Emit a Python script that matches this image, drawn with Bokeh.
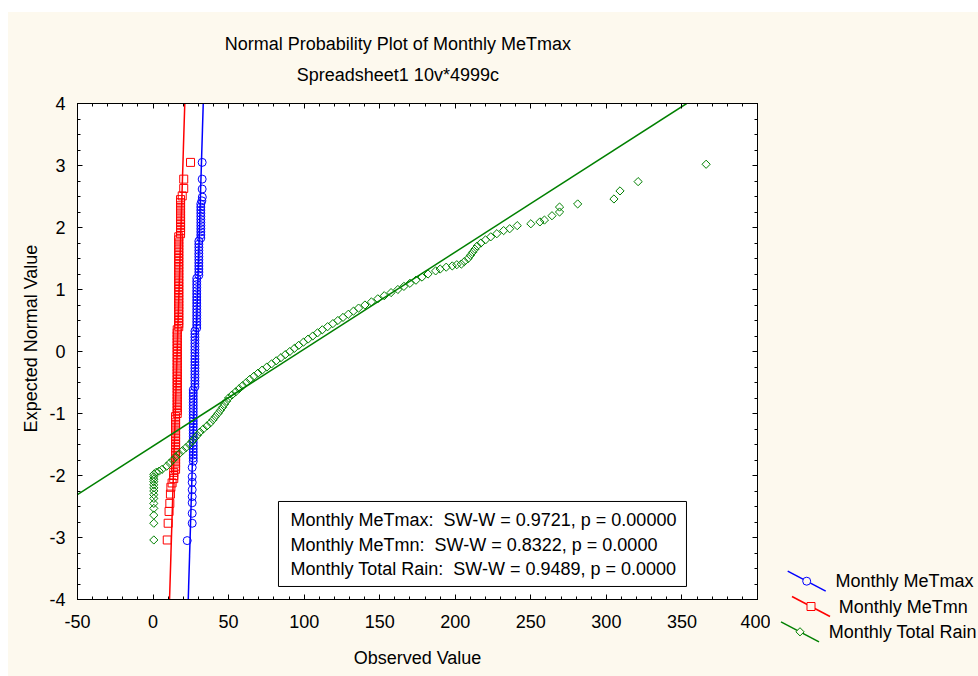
import numpy as np
from bokeh.plotting import figure
from bokeh.models import (Range1d, LinearAxis, SingleIntervalTicker, Label,
                          BoxAnnotation, Spacer)
from bokeh.layouts import row, column
from bokeh.embed import file_html
from bokeh.resources import INLINE

# ---------------- data ----------------
title_text = "Normal Probability Plot of Monthly MeTmax"
subtitle_text = "Spreadsheet1 10v*4999c"
x_label = "Observed Value"
y_label = "Expected Normal Value"
x_ticks = [-50, 0, 50, 100, 150, 200, 250, 300, 350, 400]
y_ticks = [-4, -3, -2, -1, 0, 1, 2, 3, 4]
series_names = ["Monthly MeTmax", "Monthly MeTmn", "Monthly Total Rain"]
sw_w = [0.9721, 0.8322, 0.9489]
p_vals = ["0.00000", "0.0000", "0.0000"]
fit_mean = [28.25, 15.95, 97.5]
fit_sd = [1.24, 1.26, 63.9]

tmax_x = [32.5, 32.5, 32.5, 32.6, 32.3,
          31.6, 31.6, 31.6, 31.6, 31.6, 31.6, 31.6, 31.6, 31.6, 31.6, 31.6, 31.6,
          30.3, 30.3, 30.3, 30.3, 30.3, 30.3, 30.3, 30.3, 30.3, 30.3, 30.3, 30.3,
          28.9, 28.9, 28.9, 28.9, 28.9, 28.9, 28.9, 28.9, 28.9, 28.9, 28.9, 28.9,
          28.9, 28.9, 28.9, 28.9, 28.9,
          27.7, 27.7, 27.7, 27.7, 27.7, 27.7, 27.7, 27.7, 27.7, 27.7, 27.7, 27.7,
          27.7, 27.7, 27.7, 27.7, 27.7, 27.7, 27.7,
          26.6, 26.6, 26.6, 26.6, 26.6, 26.6, 26.6, 26.6, 26.6, 26.6, 26.6, 26.6,
          26.6, 26.6, 26.6, 26.6, 26.6, 26.6, 26.6, 26.6, 26.6, 26.6, 26.6, 26.6,
          25.9, 25.9, 25.9, 25.9, 25.9, 25.9, 25.9, 25.9,
          22.6]
tmax_y = [3.05, 2.78, 2.62, 2.49, 2.43,
          2.38, 2.33, 2.28, 2.23, 2.18, 2.13, 2.08, 2.03, 1.98, 1.93, 1.88, 1.83,
          1.78, 1.73, 1.68, 1.63, 1.58, 1.53, 1.48, 1.43, 1.38, 1.33, 1.28, 1.23,
          1.18, 1.13, 1.08, 1.03, 0.98, 0.93, 0.88, 0.83, 0.78, 0.73, 0.68, 0.63,
          0.58, 0.53, 0.48, 0.43, 0.38,
          0.33, 0.28, 0.23, 0.18, 0.13, 0.08, 0.03, -0.02, -0.07, -0.12, -0.17, -0.22,
          -0.27, -0.32, -0.37, -0.42, -0.47, -0.52, -0.57,
          -0.62, -0.67, -0.72, -0.77, -0.82, -0.87, -0.92, -0.97, -1.02, -1.07, -1.12, -1.17,
          -1.22, -1.27, -1.32, -1.37, -1.42, -1.47, -1.52, -1.57, -1.62, -1.67, -1.72, -1.77,
          -1.87, -2.02, -2.11, -2.23, -2.34, -2.44, -2.61, -2.77,
          -3.05]

tmn_x = [24.8, 20.3, 20.3, 19.3,
         18.2, 18.2, 18.2, 18.2, 18.2, 18.2, 18.2, 18.2, 18.2, 18.2, 18.2, 18.2,
         17.0, 17.0, 17.0, 17.0, 17.0, 17.0, 17.0, 17.0, 17.0, 17.0,
         17.0, 17.0, 17.0, 17.0, 17.0, 17.0, 17.0, 17.0, 17.0, 17.0,
         17.0, 17.0, 17.0, 17.0, 17.0, 17.0, 17.0, 17.0, 17.0, 17.0,
         16.0, 16.0, 16.0, 16.0, 16.0, 16.0, 16.0, 16.0, 16.0, 16.0,
         16.0, 16.0, 16.0, 16.0, 16.0, 16.0, 16.0, 16.0, 16.0, 16.0,
         16.0, 16.0, 16.0, 16.0, 16.0, 16.0, 16.0, 16.0,
         14.9, 14.9, 14.9, 14.9, 14.9, 14.9, 14.9, 14.9, 14.9,
         14.9, 14.9, 14.9, 14.9, 14.9, 14.9, 14.9, 14.9, 14.9,
         13.7, 13.7, 13.7,
         12.6, 11.8, 11.5, 11.1, 10.6, 10.0, 9.4]
tmn_y = [3.05, 2.78, 2.63, 2.51,
         2.45, 2.40, 2.35, 2.30, 2.25, 2.20, 2.15, 2.10, 2.05, 2.00, 1.95, 1.90,
         1.85, 1.80, 1.75, 1.70, 1.65, 1.60, 1.55, 1.50, 1.45, 1.40,
         1.35, 1.30, 1.25, 1.20, 1.15, 1.10, 1.05, 1.00, 0.95, 0.90,
         0.85, 0.80, 0.75, 0.70, 0.65, 0.60, 0.55, 0.50, 0.45, 0.40,
         0.35, 0.30, 0.25, 0.20, 0.15, 0.10, 0.05, 0.00, -0.05, -0.10,
         -0.15, -0.20, -0.25, -0.30, -0.35, -0.40, -0.45, -0.50, -0.55, -0.60,
         -0.65, -0.70, -0.75, -0.80, -0.85, -0.90, -0.95, -1.00,
         -1.05, -1.10, -1.15, -1.20, -1.25, -1.30, -1.35, -1.40, -1.45,
         -1.50, -1.55, -1.60, -1.65, -1.70, -1.75, -1.80, -1.85, -1.90,
         -1.95, -2.00, -2.05,
         -2.12, -2.19, -2.30, -2.45, -2.58, -2.77, -3.04]

rain_x = [0.5, 0.5, 0.5, 0.5, 0.5, 0.5, 0.5, 0.5, 0.5, 0.5, 0.5, 0.5, 0.5, 0.5,
          2.0, 4.0,
          6.0, 9.0, 11.0, 13.0, 15.0, 17.3, 19.5, 21.8, 24.0, 25.8, 27.5, 29.3,
          31.0, 33.3, 35.7, 38.0, 39.7, 41.3, 43.0, 44.5, 46.0, 47.3, 48.7, 50.0,
          52.3, 54.7, 57.0, 59.3, 61.7, 64.0, 66.7, 69.4, 72.2, 75.3, 78.4, 81.5,
          84.6, 87.5, 90.5, 93.5, 96.4, 99.5, 102.6, 105.7, 108.8, 112.0, 115.5, 119.0,
          122.3, 125.7, 129.2, 132.6, 136.0, 140.2, 144.5, 148.7, 153.0, 157.5, 162.0, 166.0,
          170.0, 174.0, 178.0, 182.0, 187.0, 190.0, 194.0, 198.0, 201.0, 204.0, 206.0, 208.5,
          210.0, 211.5, 213.0, 214.5, 217.0, 220.0, 223.5, 227.5, 232.0,
          236.0, 241.0, 250.0, 256.0, 259.0, 264.0, 269.0, 269.0, 281.0, 305.0, 309.0, 321.0, 366.0]
rain_y = [-3.04, -2.77, -2.64, -2.53, -2.45, -2.37, -2.31, -2.25, -2.20, -2.15, -2.10, -2.06, -2.02, -1.98,
          -1.95, -1.93,
          -1.90, -1.85, -1.80, -1.75, -1.70, -1.65, -1.60, -1.55, -1.50, -1.45, -1.40, -1.35,
          -1.30, -1.25, -1.20, -1.15, -1.10, -1.05, -1.00, -0.95, -0.90, -0.85, -0.80, -0.75,
          -0.70, -0.65, -0.60, -0.55, -0.50, -0.45, -0.40, -0.35, -0.30, -0.25, -0.20, -0.15,
          -0.10, -0.05, 0.00, 0.05, 0.10, 0.15, 0.20, 0.25, 0.30, 0.35, 0.40, 0.45,
          0.50, 0.55, 0.60, 0.65, 0.70, 0.75, 0.80, 0.85, 0.90, 0.95, 1.00, 1.05,
          1.10, 1.15, 1.20, 1.25, 1.30, 1.33, 1.36, 1.38, 1.40, 1.41, 1.45, 1.50,
          1.55, 1.60, 1.65, 1.70, 1.75, 1.80, 1.85, 1.90, 1.95,
          1.98, 2.03, 2.06, 2.09, 2.12, 2.19, 2.25, 2.33, 2.38, 2.46, 2.59, 2.74, 3.02]

# ---------------- styling ----------------
FONT = "Liberation Sans"
FS = "18px"
CREAM = "#fdf9ee"
BLUE, RED, GREEN = "#0000ff", "#ff0000", "#008000"
colors = [BLUE, RED, GREEN]
DIAMOND = 5.8

# page geometry (pixels): left white 8, top white 12
LEFT_W = 35          # strip holding the y-axis label
HEAD_H = 80          # strip holding the title lines
MAIN_W = 727
MAIN_H = 664 - HEAD_H
LEG_W = 208


def strip(width, height, x0, y0):
    f = figure(width=width, height=height,
               x_range=Range1d(x0, x0 + width), y_range=Range1d(y0 + height, y0),
               output_backend="svg", toolbar_location=None, title=None,
               x_axis_type=None, y_axis_type=None, min_border=0,
               border_fill_color=None, background_fill_color=None,
               outline_line_color=None)
    f.grid.visible = False
    return f


def put(fig, x, y, text, angle=0.0, align="center"):
    fig.add_layout(Label(x=x, y=y, text=text, text_font=FONT, text_font_size=FS,
                         text_color="black", text_align=align, text_baseline="middle",
                         angle=angle))


# ---- main plot ----
p = figure(width=MAIN_W, height=MAIN_H, x_range=Range1d(x_ticks[0], x_ticks[-1]),
           y_range=Range1d(y_ticks[0], y_ticks[-1]),
           output_backend="svg", toolbar_location=None, title=None,
           min_border_left=34, min_border_right=13, min_border_top=11, min_border_bottom=77,
           background_fill_color="white", border_fill_color=None,
           outline_line_color="black", outline_line_width=1)
p.grid.visible = False

xax = p.below[0]
yax = p.left[0]
xax.ticker = SingleIntervalTicker(interval=50, num_minor_ticks=5)
yax.ticker = SingleIntervalTicker(interval=1, num_minor_ticks=4)
xax.major_label_overrides = {t: str(t) for t in x_ticks}
yax.major_label_overrides = {t: str(t) for t in y_ticks}
top = LinearAxis(ticker=SingleIntervalTicker(interval=50, num_minor_ticks=5),
                 major_label_text_font_size="0px", major_label_text_color=None,
                 major_label_standoff=0)
right = LinearAxis(ticker=SingleIntervalTicker(interval=1, num_minor_ticks=4),
                   major_label_text_font_size="0px", major_label_text_color=None,
                   major_label_standoff=0)
p.add_layout(top, "above")
p.add_layout(right, "right")
for ax in (xax, yax, top, right):
    ax.major_tick_in = 5
    ax.major_tick_out = 0
    ax.minor_tick_in = 3
    ax.minor_tick_out = 0
    ax.axis_line_color = "black"
    ax.major_tick_line_color = "black"
    ax.minor_tick_line_color = "black"
for ax in (xax, yax):
    ax.major_label_text_font = FONT
    ax.major_label_text_font_size = FS
    ax.major_label_text_color = "black"
xax.major_label_standoff = 15
yax.major_label_standoff = 12
xax.axis_label = x_label
xax.axis_label_text_font = FONT
xax.axis_label_text_font_size = FS
xax.axis_label_text_font_style = "normal"
xax.axis_label_text_color = "black"
xax.axis_label_standoff = 17

pts = [(tmax_x, tmax_y, "circle", 8, 0.0),
       (tmn_x, tmn_y, "square", 8, 0.0),
       (rain_x, rain_y, "square", DIAMOND, np.pi / 4)]
for i, (xs, ys, mk, sz, ang) in enumerate(pts):
    m, s = fit_mean[i], fit_sd[i]
    p.line([m + y_ticks[0] * s, m + y_ticks[-1] * s], [y_ticks[0], y_ticks[-1]],
           line_color=colors[i], line_width=1.5)
    p.scatter(xs, ys, marker=mk, size=sz, angle=ang, fill_color=None,
              line_color=colors[i], line_width=1)

# stats box
p.add_layout(BoxAnnotation(left=83.0, right=353.0, top=-2.419, bottom=-3.79,
                           fill_color="white", fill_alpha=1.0,
                           line_color="black", line_width=1, line_alpha=1.0))
stat_rows_y = [-2.71, -3.113, -3.516]
for i in range(3):
    put(p, 91.0, stat_rows_y[i],
        f"{series_names[i]}:\u00a0 SW-W = {sw_w[i]:.4f}, p = {p_vals[i]}", align="left")

# ---- title strip ----
head = strip(MAIN_W, HEAD_H, 8 + LEFT_W, 12)
put(head, 385.5, 43, title_text)
put(head, 385.5, 74, subtitle_text)

# ---- y label strip ----
lefts = strip(LEFT_W, 664, 8, 12)
put(lefts, 30, 338, y_label, angle=np.pi / 2)

# ---- legend strip ----
lg = strip(LEG_W, 664, 770, 12)
leg_rows = [(806.2, 580.7, 835.0), (810.5, 606.0, 838.3), (799.5, 631.3, 828.3)]
mk_specs = [("circle", 8, 0.0), ("square", 8, 0.0), ("square", DIAMOND, np.pi / 4)]
for i, (cx, cy, tx) in enumerate(leg_rows):
    lg.line([cx - 19, cx + 19], [cy - 10, cy + 10], line_color=colors[i], line_width=1.5)
    mk, sz, ang = mk_specs[i]
    lg.scatter([cx], [cy], marker=mk, size=sz, angle=ang, fill_color=CREAM,
               line_color=colors[i], line_width=1)
    put(lg, tx, cy, series_names[i], align="left")

body = row(lefts, column(head, p), lg, styles={"background-color": CREAM})
layout = column(Spacer(width=978, height=12),
                row(Spacer(width=8, height=664), body))

open("out.html", "w").write(file_html(layout, INLINE))
